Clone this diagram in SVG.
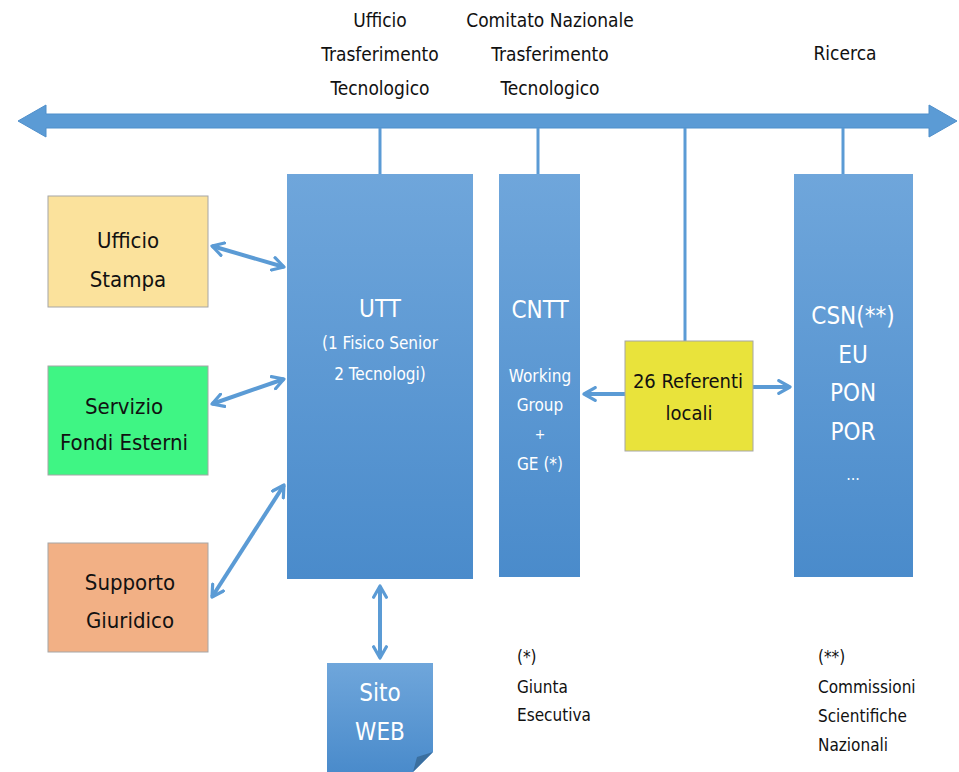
<svg xmlns="http://www.w3.org/2000/svg" width="959" height="772" viewBox="0 0 959 772">
<defs>
<linearGradient id="blue" x1="0" y1="0" x2="0" y2="1">
<stop offset="0" stop-color="#6fa6db"/>
<stop offset="1" stop-color="#4a8bcb"/>
</linearGradient>
<marker id="ah" viewBox="0 0 10 10" refX="8" refY="5" markerWidth="4" markerHeight="4" orient="auto-start-reverse" markerUnits="strokeWidth">
<path d="M1,1 L8,5 L1,9" fill="none" stroke="#5b9bd5" stroke-width="2" stroke-linecap="round" stroke-linejoin="round"/>
</marker>
<style>
text{font-family:"DejaVu Sans Condensed","Liberation Sans Narrow","Liberation Sans",sans-serif;text-anchor:middle;dominant-baseline:central}
.dark{fill:#111}
.white{fill:#fff}
.blk{fill:url(#blue)}
.conn{stroke:#5b9bd5;stroke-width:4;fill:none}
.drop{stroke:#5b9bd5;stroke-width:3}
.box{stroke:#a6a6a6;stroke-width:1}
.note{text-anchor:start}
</style>
</defs>
<rect width="959" height="772" fill="#fff"/>

<g id="bus">
<polygon points="18,121 46,105 46,114 929,114 929,105 957,121 929,137 929,128 46,128 46,137" fill="#5b9bd5" stroke="#4f8fcb" stroke-width="1"/>
</g>

<g id="labels">
<text x="380" y="20" font-size="19" class="dark">Ufficio</text>
<text x="380" y="54" font-size="19" class="dark">Trasferimento</text>
<text x="380" y="88" font-size="19" class="dark">Tecnologico</text>
<text x="550" y="20" font-size="19" class="dark">Comitato Nazionale</text>
<text x="550" y="54" font-size="19" class="dark">Trasferimento</text>
<text x="550" y="88" font-size="19" class="dark">Tecnologico</text>
<text x="845" y="53" font-size="19" class="dark">Ricerca</text>
</g>

<g id="connectors">
<line x1="380" y1="128" x2="380" y2="174" class="drop"/>
<line x1="538" y1="128" x2="538" y2="174" class="drop"/>
<line x1="685" y1="128" x2="685" y2="341" class="drop"/>
<line x1="843" y1="128" x2="843" y2="174" class="drop"/>
<line x1="212" y1="246" x2="284" y2="267" class="conn" marker-start="url(#ah)" marker-end="url(#ah)"/>
<line x1="212" y1="404" x2="284" y2="379" class="conn" marker-start="url(#ah)" marker-end="url(#ah)"/>
<line x1="212" y1="597" x2="284" y2="485" class="conn" marker-start="url(#ah)" marker-end="url(#ah)"/>
<line x1="380" y1="586" x2="380" y2="658" class="conn" marker-start="url(#ah)" marker-end="url(#ah)"/>
<line x1="625" y1="394" x2="584" y2="394" class="conn" marker-end="url(#ah)"/>
<line x1="753" y1="387" x2="790" y2="387" class="conn" marker-end="url(#ah)"/>
</g>

<g id="utt">
<rect x="287" y="174" width="186" height="405" class="blk"/>
<text x="380" y="309" font-size="24" class="white">UTT</text>
<text x="380" y="343" font-size="17" class="white">(1 Fisico Senior</text>
<text x="380" y="374" font-size="17" class="white">2 Tecnologi)</text>
</g>

<g id="cntt">
<rect x="499" y="174" width="81" height="403" class="blk"/>
<text x="540" y="310" font-size="24" class="white">CNTT</text>
<text x="540" y="376" font-size="17" class="white">Working</text>
<text x="540" y="405" font-size="17" class="white">Group</text>
<text x="540" y="434" font-size="14" class="white">+</text>
<text x="540" y="464" font-size="17" class="white">GE (*)</text>
</g>

<g id="csn">
<rect x="794" y="174" width="119" height="403" class="blk"/>
<text x="853" y="316" font-size="24" class="white">CSN(**)</text>
<text x="853" y="355" font-size="24" class="white">EU</text>
<text x="853" y="393" font-size="24" class="white">PON</text>
<text x="853" y="432" font-size="24" class="white">POR</text>
<text x="853" y="474" font-size="16" class="white">...</text>
</g>

<g id="ufficio-stampa">
<rect x="48" y="196" width="160" height="111" fill="#fbe29c" class="box"/>
<text x="128" y="240" font-size="22" class="dark">Ufficio</text>
<text x="128" y="279" font-size="22" class="dark">Stampa</text>
</g>

<g id="fondi-esterni">
<rect x="48" y="366" width="160" height="109" fill="#3ff584" class="box"/>
<text x="124" y="406" font-size="22" class="dark">Servizio</text>
<text x="124" y="442" font-size="22" class="dark">Fondi Esterni</text>
</g>

<g id="supporto-giuridico">
<rect x="48" y="543" width="160" height="109" fill="#f2b085" class="box"/>
<text x="130" y="582" font-size="22" class="dark">Supporto</text>
<text x="130" y="620" font-size="22" class="dark">Giuridico</text>
</g>

<g id="referenti">
<rect x="625" y="341" width="128" height="110" fill="#e9e33b" class="box"/>
<text x="688" y="381" font-size="20" class="dark">26 Referenti</text>
<text x="689" y="413" font-size="20" class="dark">locali</text>
</g>

<g id="sito-web">
<path d="M327,663 H433 V752 L413,772 H327 Z" class="blk"/>
<path d="M433,752 L413,772 L417,757 Z" fill="#3b6f9f"/>
<text x="380" y="693" font-size="24" class="white">Sito</text>
<text x="380" y="732" font-size="24" class="white">WEB</text>
</g>

<g id="notes">
<text x="517" y="657" font-size="17" class="dark note">(*)</text>
<text x="517" y="687" font-size="17" class="dark note">Giunta</text>
<text x="517" y="715" font-size="17" class="dark note">Esecutiva</text>
<text x="818" y="657" font-size="17" class="dark note">(**)</text>
<text x="818" y="687" font-size="17" class="dark note">Commissioni</text>
<text x="818" y="716" font-size="17" class="dark note">Scientifiche</text>
<text x="818" y="745" font-size="17" class="dark note">Nazionali</text>
</g>
</svg>
